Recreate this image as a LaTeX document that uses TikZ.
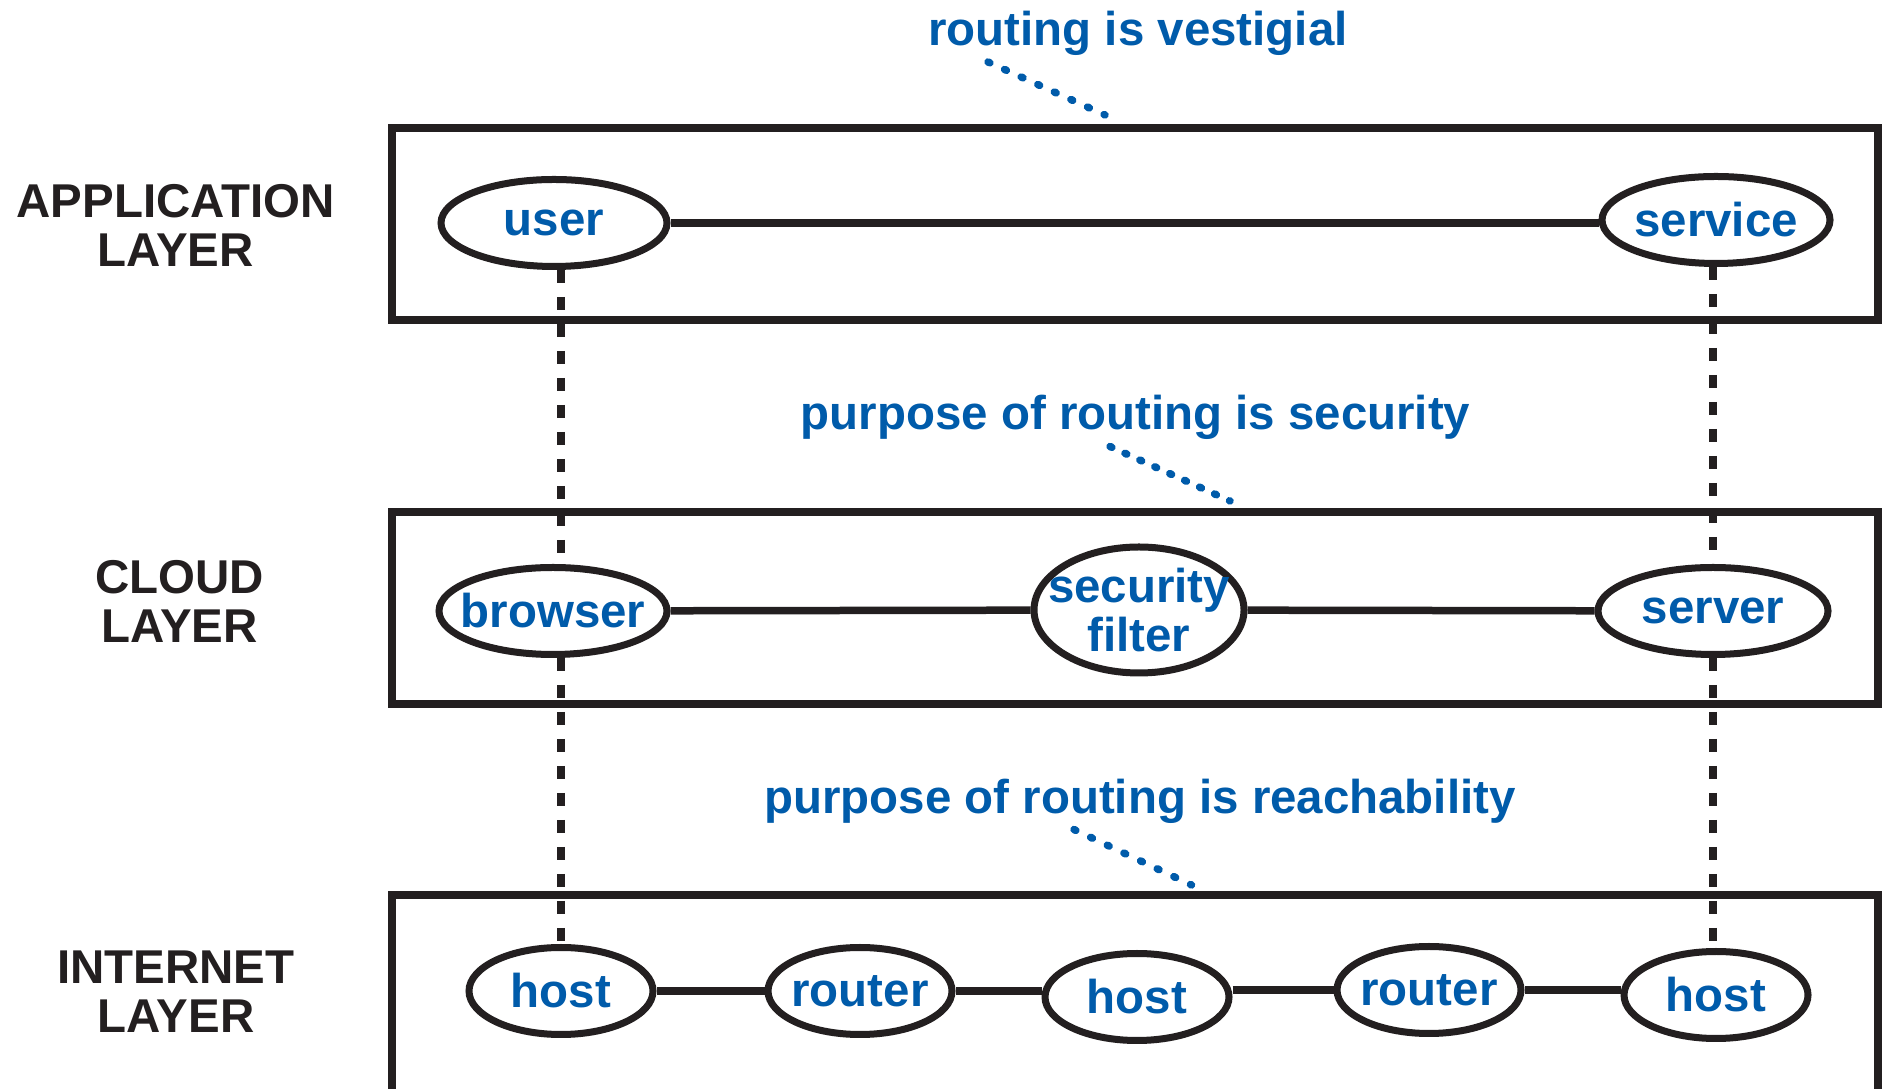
\documentclass[tikz,border=0pt]{standalone}
\usepackage{fontspec}
\setmainfont{Liberation Sans}
\usepackage{tikz}
\usetikzlibrary{shapes.geometric}

\definecolor{inkblack}{RGB}{35,31,32}
\definecolor{routeblue}{RGB}{0,91,170}

% zero-width text, so the ellipse keeps the size we give it
\newcommand{\peertext}[1]{\makebox[0pt]{#1}}

\tikzset{
	labelfont/.style={font=\bfseries\fontsize{13.5}{13.8}\selectfont},
	layerbox/.style={draw=inkblack, line width=0.08cm},
	layername/.style={labelfont, text=inkblack, align=center, inner sep=0pt},
	peer/.style={ellipse, draw=inkblack, line width=0.07cm, fill=white, inner sep=0pt,
		labelfont, text=routeblue, minimum width=2.28cm, minimum height=0.87cm},
	smallpeer/.style={peer, minimum width=1.84cm},
	link/.style={draw=inkblack, line width=0.075cm},
	updown/.style={draw=inkblack, line width=0.072cm, dash pattern=on 0.13cm off 0.14cm},
	note/.style={labelfont, text=routeblue, anchor=base, inner sep=0pt},
	pointer/.style={draw=routeblue, line width=0.075cm, line cap=round,
		dash pattern=on 0.02cm off #1},
	pointer/.default=0.165cm
}

\begin{document}
\begin{tikzpicture}
		\useasboundingbox (0,0) rectangle (18.89,10.89);
		\clip (0,0) rectangle (18.89,10.89);
	
		% The three layer boxes
		\draw[layerbox] (3.915,9.61) rectangle (18.78,7.69);
		\draw[layerbox] (3.915,5.765) rectangle (18.78,3.845);
		\draw[layerbox] (3.915,1.935) rectangle (18.78,-0.5);
	
		% Layer names on the left
		\node[layername] (appname) at (1.755,8.635) {APPLICATION\\LAYER};
		\node[layername] (cloudname) at (1.795,4.875) {CLOUD\\LAYER};
		\node[layername] (netname) at (1.76,0.975) {INTERNET\\LAYER};
	
		% Application layer
		\node[peer, minimum width=2.26cm] (user) at (5.54,8.66) {\peertext{user}};
		\node[peer] (service) at (17.16,8.69) {\peertext{service}};
	
		% Cloud layer
		\node[peer] (browser) at (5.53,4.78) {\peertext{browser}};
		\node[peer, minimum width=2.10cm, minimum height=1.26cm, align=center] (secfilter)
			at (11.39,4.79) {\peertext{security}\\\peertext{filter}};
		\node[peer, minimum width=2.30cm] (server) at (17.13,4.78) {\peertext{server}};
	
		% Internet layer
		\node[smallpeer] (hostA) at (5.61,0.98) {\peertext{host}};
		\node[smallpeer] (routerA) at (8.60,0.98) {\peertext{router}};
		\node[smallpeer] (hostB) at (11.37,0.92) {\peertext{host}};
		\node[smallpeer] (routerB) at (14.29,0.99) {\peertext{router}};
		\node[smallpeer] (hostC) at (17.16,0.94) {\peertext{host}};
	
		% Links inside each layer
		\draw[link] (user.east) -- (user.east -| service.west);
		\draw[link] (browser) -- (secfilter);
		\draw[link] (secfilter) -- (server);
		\draw[link] (hostA.east) -- (hostA.east -| routerA.west);
		\draw[link] (routerA.east) -- (routerA.east -| hostB.west);
		\draw[link] (routerB.west -| hostB.east) -- (routerB.west);
		\draw[link] (routerB.east) -- (routerB.east -| hostC.west);
	
		% Vertical mapping between the layers
		\draw[updown] (user.south -| hostA) -- (browser.north -| hostA);
		\draw[updown] (browser.south -| hostA) -- (hostA.north);
		\draw[updown] (service.south -| server) -- (server.north);
		\draw[updown] (server.south) -- (hostC.north -| server);
	
		% Notes above each layer
		\node[note] (vestigial) at (11.38,10.43) {routing is vestigial};
		\node[note] (security) at (11.355,6.595) {purpose of routing is security};
		\node[note] (reach) at (11.40,2.75) {purpose of routing is reachability};
	
		\coordinate (vestigialtip) at (11.05,9.74);
		\coordinate (securitytip) at (12.30,5.88);
		\coordinate (reachtip) at (11.915,2.04);
		\draw[pointer=0.162cm] (9.88,10.27) -- (vestigialtip);
		\draw[pointer=0.144cm] (11.10,6.425) -- (securitytip);
		\draw[pointer=0.164cm] (10.74,2.595) -- (reachtip);
	
	\end{tikzpicture}
\end{document}
